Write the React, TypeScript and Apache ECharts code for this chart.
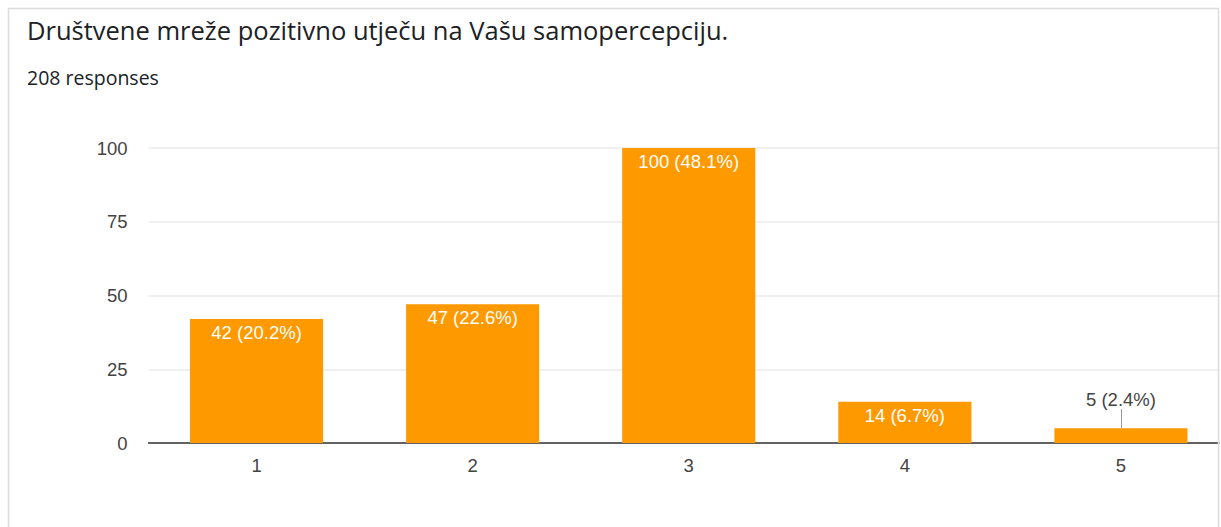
import React, { useEffect, useRef } from "react";
import * as echarts from "echarts";

const categories = ["1", "2", "3", "4", "5"];
const counts = [42, 47, 100, 14, 5];
const totalResponses = 208;
const yTicks = { min: 0, max: 100, interval: 25 };
const titleText = "Društvene mreže pozitivno utječu na Vašu samopercepciju.";
const subtitleText = `${totalResponses} responses`;

const ORANGE = "#ff9900";

export default function App() {
  const ref = useRef<HTMLDivElement>(null);
  useEffect(() => {
    if (!ref.current) return;
    const chart = echarts.init(ref.current, null, { renderer: "svg" });
    const fmt = (v: number) => `${v} (${((v / totalResponses) * 100).toFixed(1)}%)`;
    const smallIdx = counts.map((v, i) => (v < 10 ? i : -1)).filter((i) => i >= 0);
    chart.setOption({
      animation: false,
      backgroundColor: "#ffffff",
      title: [
        {
          text: titleText,
          left: 22,
          top: 12,
          textStyle: { fontFamily: "Open Sans", fontSize: 25.5, fontWeight: "normal", color: "#202124" },
        },
        {
          text: subtitleText,
          left: 22,
          top: 62,
          textStyle: { fontFamily: "Open Sans", fontSize: 19.5, fontWeight: "normal", color: "#202124" },
        },
      ],
      graphic: [
        {
          type: "rect",
          z: 100,
          shape: { x: 8.5, y: 8.5, width: 1210, height: 540 },
          style: { fill: "none", stroke: "#dadce0", lineWidth: 1.5 },
          silent: true,
        },
        {
          type: "rect",
          z: 99,
          shape: { x: 1219.5, y: 0, width: 30, height: 527 },
          style: { fill: "#ffffff" },
          silent: true,
        },
      ],
      grid: { left: 148.5, top: 148, width: 1080.5, height: 295 },
      xAxis: {
        type: "category",
        data: categories,
        axisTick: { show: false },
        axisLine: { lineStyle: { color: "#333333", width: 1.5 } },
        axisLabel: { fontFamily: "Liberation Sans", fontSize: 18.5, color: "#444444", margin: 13 },
      },
      yAxis: {
        type: "value",
        min: yTicks.min,
        max: yTicks.max,
        interval: yTicks.interval,
        axisLine: { show: false },
        axisTick: { show: false },
        splitLine: { lineStyle: { color: "#ebebeb", width: 1.5 } },
        axisLabel: { fontFamily: "Liberation Sans", fontSize: 18.5, color: "#444444", margin: 21 },
      },
      series: [
        {
          type: "bar",
          barWidth: "61.6%",
          itemStyle: { color: ORANGE },
          data: counts.map((v) =>
            v < 10
              ? {
                  value: v,
                  label: { position: "top", distance: 19, color: "#444444" },
                }
              : v
          ),
          label: {
            show: true,
            position: "insideTop",
            distance: 4,
            formatter: (p: any) => fmt(p.value),
            fontFamily: "Liberation Sans",
            fontSize: 18.5,
            color: "#ffffff",
          },
          markLine: {
            silent: true,
            symbol: "none",
            label: { show: false },
            lineStyle: { color: "#999999", width: 1, type: "solid" },
            data: smallIdx.map((i) => [
              { coord: [categories[i], counts[i]] },
              { coord: [categories[i], counts[i] + 6.5] },
            ]),
          },
        },
      ],
    });
    return () => chart.dispose();
  }, []);
  return (
    <div style={{ position: "fixed", left: 0, top: 0, width: 1221, height: 527, overflow: "hidden" }}>
      <div ref={ref} style={{ width: 1250, height: 527 }} />
    </div>
  );
}
